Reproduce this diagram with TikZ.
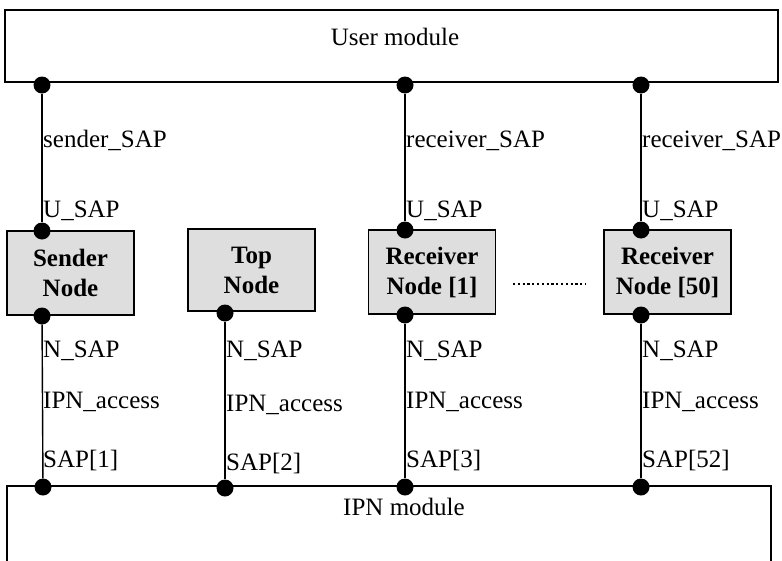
\documentclass[tikz,border=0pt]{standalone}
\usepackage{fontspec}
\setmainfont{Liberation Serif}
\begin{document}
\begin{tikzpicture}[x=1pt,y=-1pt,
  txt/.style={inner sep=0pt, font=\fontsize{25}{30}\selectfont},
  lab/.style={txt, anchor=base west},
  module/.style={draw, line width=1.8pt, inner sep=0pt},
  nodebox/.style={draw, line width=1.8pt, fill=black!13, minimum width=127pt,
    minimum height=84pt, align=center, inner sep=0pt,
    font=\fontsize{25}{30}\selectfont\bfseries},
  dot/.style={circle, fill=black, inner sep=0pt, minimum size=17pt},
  wire/.style={line width=1.4pt}]
\useasboundingbox (0,0) rectangle (782,560);

% modules
\node[module, minimum width=773pt, minimum height=72pt] (user) at (391.5,46) {};
\node[txt] (usertxt) at (395,37) {User module};
\draw[line width=1.8pt] (7,562) -- (7,486) -- (771,486) -- (771,562);
\coordinate (ipntop) at (389,486);
\node[txt, anchor=base] (ipntxt) at (404,515) {IPN module};

% node boxes
\node[nodebox] (sender) at (70.5,273) {Sender\\Node};
\node[nodebox, minimum height=82pt] (top) at (251.5,270) {Top\\Node};
\node[nodebox] (recv1) at (432,272) {Receiver\\Node [1]};
\node[nodebox] (recv50) at (667.5,272) {Receiver\\Node [50]};

% dots on user module
\node[dot] (u1) at (42,85) {};
\node[dot] (u3) at (405,85) {};
\node[dot] (u4) at (641,85) {};
% dots on node tops
\node[dot] (t1) at (42,231) {};
\node[dot] (t3) at (405,230) {};
\node[dot] (t4) at (641,230) {};
% dots on node bottoms
\node[dot] (b1) at (42,316) {};
\node[dot] (b2) at (225,313) {};
\node[dot] (b3) at (405,315) {};
\node[dot] (b4) at (641,315) {};
% dots on IPN module
\node[dot] (p1) at (43,487) {};
\node[dot] (p2) at (225,488) {};
\node[dot] (p3) at (405,487) {};
\node[dot] (p4) at (641,487) {};

% wires
\draw[wire] (u1) -- (t1);
\draw[wire] (u3) -- (t3);
\draw[wire] (u4) -- (t4);
\draw[wire] (b1) -- (p1);
\draw[wire] (b2) -- (p2);
\draw[wire] (b3) -- (p3);
\draw[wire] (b4) -- (p4);

% dotted continuation
\coordinate (d1) at (513,284);
\coordinate (d2) at (586,284);
\draw[line width=2.2pt, dash pattern=on 2.2pt off 2.6pt] (d1) -- (d2);

% labels: sender column
\node[lab] (l1a) at (43,147) {sender\_SAP};
\node[lab] (l1b) at (43,217) {U\_SAP};
\node[lab] (l1c) at (43,357) {N\_SAP};
\node[lab] (l1d) at (43,408) {IPN\_access};
\node[lab] (l1e) at (43,467) {SAP[1]};
% top column
\node[lab] (l2c) at (226,357) {N\_SAP};
\node[lab] (l2d) at (226,411) {IPN\_access};
\node[lab] (l2e) at (226,470) {SAP[2]};
% receiver 1 column
\node[lab] (l3a) at (406,147) {receiver\_SAP};
\node[lab] (l3b) at (406,217) {U\_SAP};
\node[lab] (l3c) at (406,357) {N\_SAP};
\node[lab] (l3d) at (406,408) {IPN\_access};
\node[lab] (l3e) at (406,467) {SAP[3]};
% receiver 50 column
\node[lab] (l4a) at (642,147) {receiver\_SAP};
\node[lab] (l4b) at (642,217) {U\_SAP};
\node[lab] (l4c) at (642,357) {N\_SAP};
\node[lab] (l4d) at (642,408) {IPN\_access};
\node[lab] (l4e) at (642,467) {SAP[52]};
\end{tikzpicture}
\end{document}
